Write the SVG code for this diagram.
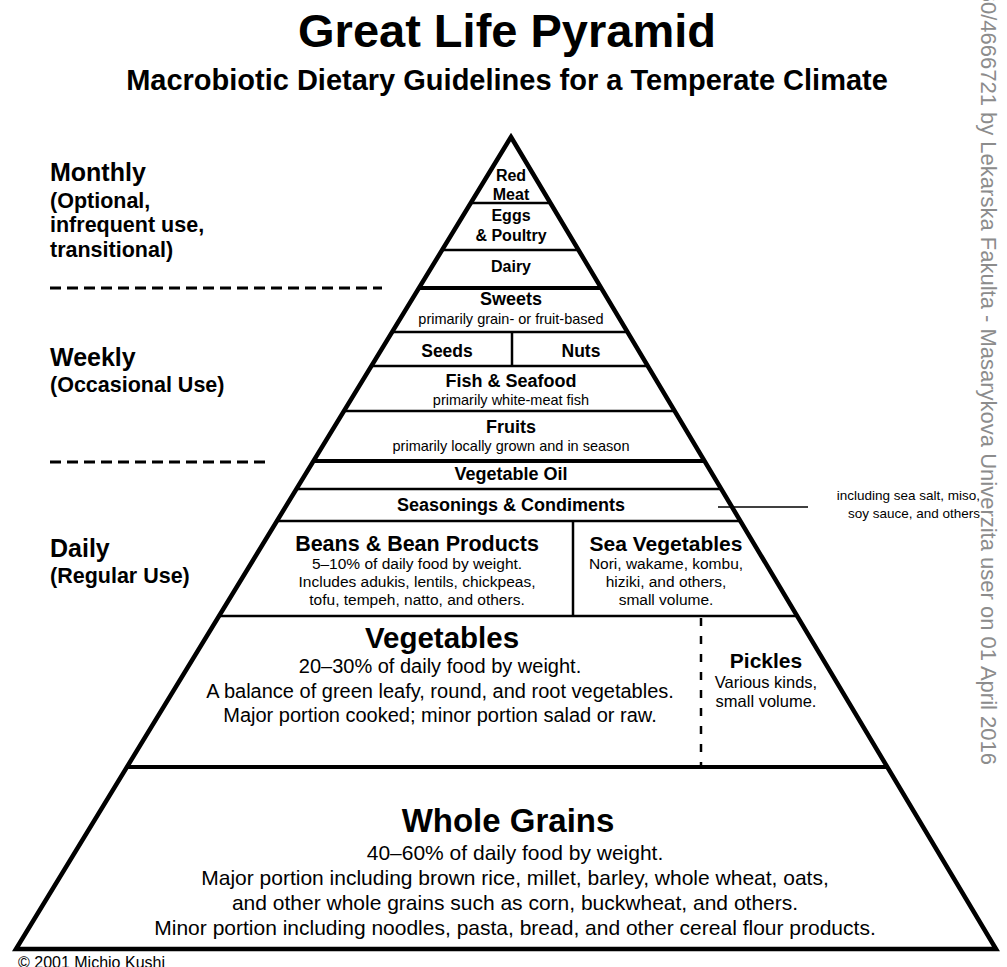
<svg xmlns="http://www.w3.org/2000/svg" width="1007" height="967" viewBox="0 0 1007 967">
<style>
text { font-family: "Liberation Sans", Arial, Helvetica, sans-serif; fill: #000; }
.b { font-weight: bold; }
.c { text-anchor: middle; }
.sep { stroke: #000; stroke-width: 2.5; fill: none; }
.thick { stroke: #000; stroke-width: 4; fill: none; }
.lvl { stroke: #000; stroke-width: 3; stroke-dasharray: 11 6; fill: none; }
.lead { stroke: #000; stroke-width: 1.5; fill: none; }
.t16 { font-size: 16px; }
.t18 { font-size: 18px; }
.s145 { font-size: 14.5px; }
.hd { font-size: 25px; }
.sub { font-size: 21.5px; }
.veg { font-size: 20px; }
.grain { font-size: 21px; }
.small { font-size: 15.5px; }
.note { font-size: 13.5px; text-anchor: end; }
</style>
<rect width="1007" height="967" fill="#fff"/>

<g id="title">
  <text class="b c" x="507" y="47" font-size="47">Great Life Pyramid</text>
  <text class="b c" x="507" y="90" font-size="29">Macrobiotic Dietary Guidelines for a Temperate Climate</text>
</g>

<g id="level-monthly">
  <text class="b hd" x="50" y="181">Monthly</text>
  <text class="b sub" x="50" y="208">(Optional,</text>
  <text class="b sub" x="50" y="232">infrequent use,</text>
  <text class="b sub" x="50" y="257">transitional)</text>
</g>
<g id="level-weekly">
  <text class="b hd" x="50" y="366">Weekly</text>
  <text class="b sub" x="50" y="392">(Occasional Use)</text>
</g>
<g id="level-daily">
  <text class="b hd" x="50" y="557">Daily</text>
  <text class="b sub" x="50" y="583">(Regular Use)</text>
</g>
<g id="level-dividers">
  <line class="lvl" x1="50" y1="288" x2="382" y2="288"/>
  <line class="lvl" x1="50" y1="462" x2="270" y2="462"/>
</g>

<g id="pyramid-frame">
  <line class="sep" x1="470" y1="203" x2="551" y2="203"/>
  <line class="sep" x1="441" y1="250" x2="579" y2="250"/>
  <line class="thick" x1="418" y1="288" x2="602" y2="288"/>
  <line class="sep" x1="391" y1="332" x2="628" y2="332"/>
  <line class="sep" x1="370" y1="366" x2="648" y2="366"/>
  <line class="sep" x1="343" y1="411" x2="675" y2="411"/>
  <line class="thick" x1="312" y1="461" x2="705" y2="461"/>
  <line class="sep" x1="295" y1="489" x2="722" y2="489"/>
  <line class="sep" x1="276" y1="521" x2="741" y2="521"/>
  <line class="sep" x1="218" y1="616" x2="798" y2="616"/>
  <line class="thick" x1="126" y1="767" x2="888" y2="767"/>
  <line class="sep" x1="512" y1="332" x2="512" y2="366"/>
  <line class="sep" x1="573" y1="521" x2="573" y2="616"/>
  <line class="sep" x1="701" y1="618" x2="701" y2="767" stroke-width="2" stroke-dasharray="8 10"/>
  <polygon points="511,137 996,949 16,949" fill="none" stroke="#000" stroke-width="4.5" stroke-linejoin="miter"/>
</g>

<g id="tier-red-meat">
  <text class="b c t16" x="511" y="181">Red</text>
  <text class="b c t16" x="511" y="200">Meat</text>
</g>
<g id="tier-eggs-poultry">
  <text class="b c t16" x="511" y="221">Eggs</text>
  <text class="b c t16" x="511" y="241">&amp; Poultry</text>
</g>
<g id="tier-dairy">
  <text class="b c t16" x="511" y="272">Dairy</text>
</g>
<g id="tier-sweets">
  <text class="b c t18" x="511" y="305">Sweets</text>
  <text class="c s145" x="511" y="324">primarily grain- or fruit-based</text>
</g>
<g id="tier-seeds">
  <text class="b c" x="447" y="357" font-size="17.5">Seeds</text>
</g>
<g id="tier-nuts">
  <text class="b c" x="581" y="357" font-size="17.5">Nuts</text>
</g>
<g id="tier-fish">
  <text class="b c t18" x="511" y="387">Fish &amp; Seafood</text>
  <text class="c s145" x="511" y="405">primarily white-meat fish</text>
</g>
<g id="tier-fruits">
  <text class="b c t18" x="511" y="433">Fruits</text>
  <text class="c s145" x="511" y="451">primarily locally grown and in season</text>
</g>
<g id="tier-oil">
  <text class="b c t18" x="511" y="480">Vegetable Oil</text>
</g>
<g id="tier-seasonings">
  <text class="b c t18" x="511" y="511">Seasonings &amp; Condiments</text>
</g>
<g id="tier-beans">
  <text class="b c" x="417" y="551" font-size="21.5">Beans &amp; Bean Products</text>
  <text class="c small" x="417" y="569">5–10% of daily food by weight.</text>
  <text class="c small" x="417" y="587">Includes adukis, lentils, chickpeas,</text>
  <text class="c small" x="417" y="605">tofu, tempeh, natto, and others.</text>
</g>
<g id="tier-sea-vegetables">
  <text class="b c" x="666" y="551" font-size="21">Sea Vegetables</text>
  <text class="c small" x="666" y="569">Nori, wakame, kombu,</text>
  <text class="c small" x="666" y="587">hiziki, and others,</text>
  <text class="c small" x="666" y="605">small volume.</text>
</g>
<g id="tier-vegetables">
  <text class="b c" x="442" y="648" font-size="29.5">Vegetables</text>
  <text class="c veg" x="440" y="673">20–30% of daily food by weight.</text>
  <text class="c veg" x="440" y="698">A balance of green leafy, round, and root vegetables.</text>
  <text class="c veg" x="440" y="722">Major portion cooked; minor portion salad or raw.</text>
</g>
<g id="tier-pickles">
  <text class="b c" x="766" y="668" font-size="21">Pickles</text>
  <text class="c" x="766" y="688" font-size="16.5">Various kinds,</text>
  <text class="c" x="766" y="707" font-size="16.5">small volume.</text>
</g>
<g id="tier-whole-grains">
  <text class="b c" x="508" y="832" font-size="33">Whole Grains</text>
  <text class="c grain" x="515" y="860">40–60% of daily food by weight.</text>
  <text class="c grain" x="515" y="885">Major portion including brown rice, millet, barley, whole wheat, oats,</text>
  <text class="c grain" x="515" y="910">and other whole grains such as corn, buckwheat, and others.</text>
  <text class="c grain" x="515" y="935">Minor portion including noodles, pasta, bread, and other cereal flour products.</text>
</g>

<g id="connectors">
  <line class="lead" x1="718" y1="507" x2="808" y2="507"/>
</g>
<g id="note-seasonings">
  <text class="note" x="980" y="500">including sea salt, miso,</text>
  <text class="note" x="980" y="518">soy sauce, and others</text>
</g>

<g id="footer">
  <text x="18" y="968" font-size="16">© 2001 Michio Kushi</text>
  <text x="981" y="765" font-size="22" style="fill:#8c8c8c" text-anchor="end" transform="rotate(90 981 765)">60/4666721 by Lekarska Fakulta - Masarykova Univerzita user on 01 April 2016</text>
</g>
</svg>
